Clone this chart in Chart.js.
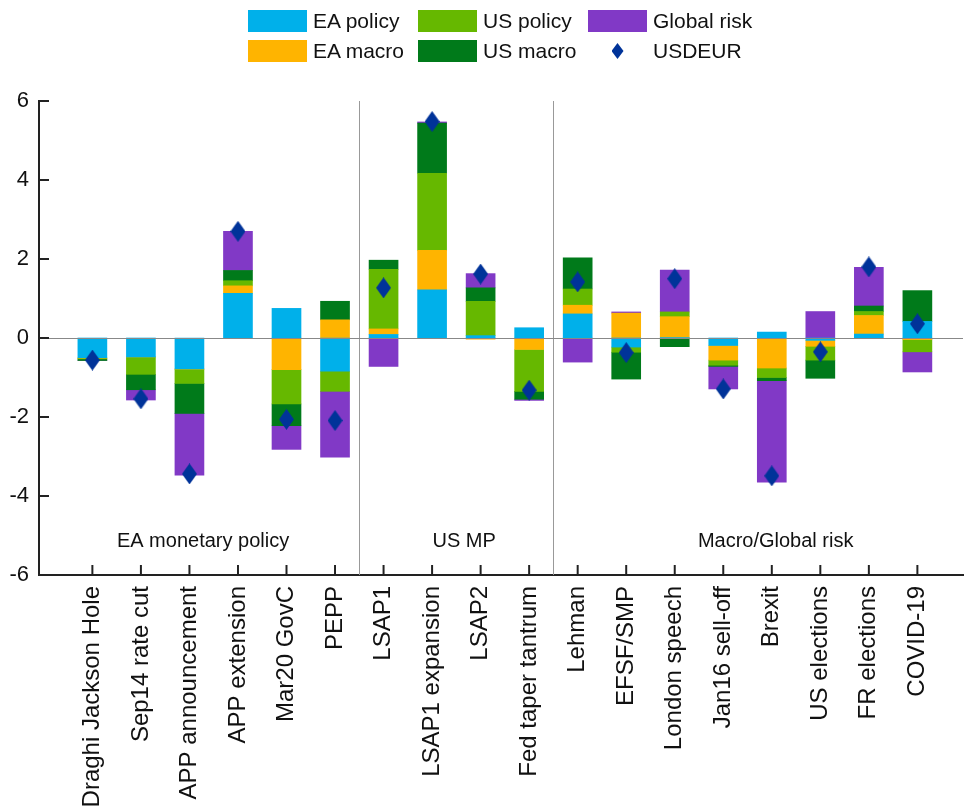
<!DOCTYPE html>
<html>
<head>
<meta charset="utf-8">
<script src="https://cdn.jsdelivr.net/npm/chart.js@4"></script>
<style>
  html, body { margin: 0; padding: 0; background: #fff; }
  #wrap { position: relative; width: 968px; height: 812px; }
  #legend {
    position: absolute; left: 248px; top: 10px;
    display: grid; grid-template-columns: 170px 170px 170px; grid-template-rows: 30px 30px;
    grid-auto-flow: column;
    font-family: "Liberation Sans", Arial, sans-serif; font-size: 21px; color: #111;
  }
  .item { display: flex; align-items: center; height: 22px; }
  .swatch { width: 59px; height: 22px; margin-right: 6px; flex: none; }
  .mark { width: 59px; height: 22px; margin-right: 6px; display: flex; justify-content: center; align-items: center; flex: none; }
  .mark span { width: 12px; height: 16px; background: #003399; clip-path: polygon(50% 0, 100% 50%, 50% 100%, 0 50%); }
</style>
</head>
<body>
<div id="wrap">
  <canvas id="chart" width="968" height="812"></canvas>
  <div id="legend"></div>
</div>
<script>
const categories = [
  "Draghi Jackson Hole", "Sep14 rate cut", "APP announcement", "APP extension", "Mar20 GovC", "PEPP",
  "LSAP1", "LSAP1 expansion", "LSAP2", "Fed taper tantrum",
  "Lehman", "EFSF/SMP", "London speech", "Jan16 sell-off", "Brexit", "US elections", "FR elections", "COVID-19"
];

const eaPolicy   = [-0.50, -0.48, -0.78, 1.13,  0.75, -0.84, 0.09, 1.22,  0.06,  0.26,  0.61, -0.23, 0.01, -0.19,  0.15, -0.06, 0.10,  0.42];
const eaMacro    = [-0.01,  0.00, -0.01, 0.19, -0.80,  0.46, 0.14, 1.00, -0.03, -0.29,  0.22,  0.63, 0.53, -0.37, -0.76, -0.15, 0.47, -0.04];
const usPolicy   = [-0.02, -0.44, -0.36, 0.13, -0.87, -0.51, 1.51, 1.95,  0.87, -1.06,  0.41, -0.13, 0.12, -0.13, -0.24, -0.35, 0.10, -0.31];
const usMacro    = [-0.04, -0.39, -0.76, 0.26, -0.55,  0.47, 0.23, 1.27,  0.34, -0.20,  0.79, -0.68, -0.22, -0.03, -0.08, -0.46, 0.14, 0.78];
const globalRisk = [ 0.00, -0.26, -1.56, 0.99, -0.60, -1.67, -0.72, 0.03, 0.36, -0.03, -0.61,  0.03, 1.06, -0.57, -2.57,  0.67, 0.98, -0.51];
const usdeur     = [-0.56, -1.54, -3.44, 2.70, -2.06, -2.09, 1.27, 5.48,  1.62, -1.32,  1.42, -0.37, 1.50, -1.29, -3.49, -0.35, 1.80,  0.36];

const groupNames = ["EA monetary policy", "US MP", "Macro/Global risk"];
const groupStarts = [0, 6, 10];

const series = [
  { label: "EA policy",   data: eaPolicy,   color: "#00B0EA" },
  { label: "EA macro",    data: eaMacro,    color: "#FFB400" },
  { label: "US policy",   data: usPolicy,   color: "#66B800" },
  { label: "US macro",    data: usMacro,    color: "#007A1A" },
  { label: "Global risk", data: globalRisk, color: "#8139C6" }
];
const fxColor = "#003399";
const font = "'Liberation Sans', Arial, sans-serif";

// legend, laid out column by column like the original
const legend = document.getElementById("legend");
series.forEach(s => {
  legend.insertAdjacentHTML("beforeend",
    `<div class="item"><div class="swatch" style="background:${s.color}"></div>${s.label}</div>`);
});
legend.insertAdjacentHTML("beforeend", `<div class="item"><div class="mark"><span></span></div>USDEUR</div>`);

// tall diamond marker
const diamond = document.createElement("canvas");
diamond.width = 15; diamond.height = 21;
{
  const c = diamond.getContext("2d");
  c.fillStyle = fxColor;
  c.beginPath();
  c.moveTo(7.5, 0); c.lineTo(15, 10.5); c.lineTo(7.5, 21); c.lineTo(0, 10.5);
  c.closePath(); c.fill();
}

// separators, zero line, inward ticks and group names
const groupLabelAt = [2.28, 7.66, 14.08];
const decor = {
  id: "decor",
  beforeDatasetsDraw(chart) {
    const { ctx, chartArea: a, scales: { x } } = chart;
    ctx.save();
    ctx.strokeStyle = "#999";
    ctx.lineWidth = 1;
    groupStarts.slice(1).forEach(g => {
      const px = Math.round(x.getPixelForValue(g - 0.5)) + 0.5;
      ctx.beginPath(); ctx.moveTo(px, a.top); ctx.lineTo(px, a.bottom); ctx.stroke();
    });
    ctx.restore();
  },
  afterDatasetsDraw(chart) {
    const { ctx, chartArea: a, scales: { x, y } } = chart;
    ctx.save();
    const py = Math.round(y.getPixelForValue(0)) + 0.5;
    ctx.strokeStyle = "#888";
    ctx.lineWidth = 1;
    ctx.beginPath(); ctx.moveTo(a.left, py); ctx.lineTo(a.right, py); ctx.stroke();

    ctx.strokeStyle = "#222";
    ctx.lineWidth = 2;
    y.ticks.forEach(t => {
      const ty = y.getPixelForValue(t.value);
      ctx.beginPath(); ctx.moveTo(a.left, ty); ctx.lineTo(a.left + 10, ty); ctx.stroke();
    });
    categories.forEach((c, i) => {
      const tx = x.getPixelForValue(i);
      ctx.beginPath(); ctx.moveTo(tx, a.bottom); ctx.lineTo(tx, a.bottom - 10); ctx.stroke();
    });

    ctx.fillStyle = "#111";
    ctx.font = "20px " + font;
    ctx.textAlign = "center";
    ctx.textBaseline = "middle";
    groupNames.forEach((n, i) => {
      ctx.fillText(n, x.getPixelForValue(groupLabelAt[i]), y.getPixelForValue(-5.14));
    });
    ctx.restore();
  }
};

const chart = new Chart(document.getElementById("chart"), {
  type: "bar",
  data: {
    datasets: [
      ...series.map(s => ({
        label: s.label,
        data: s.data.map((v, i) => ({ x: i, y: v })),
        backgroundColor: s.color,
        borderWidth: 0,
        barThickness: 29
      })),
      {
        type: "scatter",
        label: "USDEUR",
        data: usdeur.map((v, i) => ({ x: i, y: v })),
        pointStyle: diamond,
        backgroundColor: fxColor,
        stack: "fx",
        order: -1
      }
    ]
  },
  options: {
    responsive: false,
    animation: false,
    layout: { padding: { top: 101, left: 0, right: 0, bottom: 0 } },
    plugins: { legend: { display: false }, tooltip: { enabled: false } },
    scales: {
      x: {
        type: "linear",
        min: -1.1,
        max: 17.94,
        offset: false,
        stacked: true,
        afterBuildTicks: s => { s.ticks = categories.map((c, i) => ({ value: i })); },
        afterFit: s => { s.height = 237; },
        grid: { display: false, drawTicks: false, offset: false },
        border: { display: true, color: "#222", width: 2 },
        ticks: {
          callback: v => categories[v],
          autoSkip: false,
          minRotation: 90,
          maxRotation: 90,
          padding: 11,
          color: "#111",
          font: { family: font, size: 24 }
        }
      },
      y: {
        min: -6,
        max: 6,
        stacked: true,
        afterFit: s => { s.width = 39; },
        grid: { display: false, drawTicks: false },
        border: { display: true, color: "#222", width: 2 },
        ticks: { stepSize: 2, padding: 10, color: "#111", font: { family: font, size: 22 } }
      }
    }
  },
  plugins: [decor]
});
</script>
</body>
</html>
